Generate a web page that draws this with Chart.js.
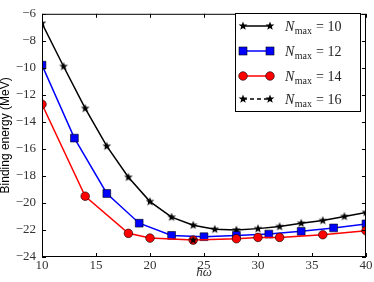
<!DOCTYPE html>
<html>
<head>
<meta charset="utf-8">
<script src="https://cdn.jsdelivr.net/npm/chart.js@4"></script>
<style>
  html, body { margin: 0; padding: 0; background: #fff; }
  canvas { display: block; }
</style>
</head>
<body>
<canvas id="chart" width="374" height="282"></canvas>
<script>
// hbar*omega values (MeV) and binding energies for each Nmax
const hwN10 = [10, 12, 14, 16, 18, 20, 22, 24, 26, 28, 30, 32, 34, 36, 38, 40];
const eN10 = [-6.7, -9.9, -13.0, -15.8, -18.1, -19.9, -21.05, -21.65, -21.95, -22.0, -21.9, -21.75, -21.5, -21.3, -21.0, -20.7];
const hwN12 = [10, 13, 16, 19, 22, 25, 28, 31, 34, 37, 40];
const eN12 = [-9.8, -15.2, -19.3, -21.5, -22.4, -22.5, -22.4, -22.3, -22.1, -21.85, -21.55];
const hwN14 = [10, 14, 18, 20, 24, 28, 30, 32, 36, 40];
const eN14 = [-12.7, -19.5, -22.25, -22.6, -22.75, -22.65, -22.55, -22.55, -22.35, -22.05];
const hwN16 = [24];
const eN16 = [-22.75];
const legendLabels = ['10', '12', '14', '16'];

const xTicks = [10, 15, 20, 25, 30, 35, 40];
const yTicks = [-24, -22, -20, -18, -16, -14, -12, -10, -8, -6];

const serif = '"Liberation Serif", "DejaVu Serif", serif';

function pts(xs, ys) {
  return xs.map((x, i) => ({ x: x, y: ys[i] }));
}

// filled 5-point star like matplotlib's '*'
function starImage(r) {
  const c = document.createElement('canvas');
  const s = Math.ceil(r * 2 + 2);
  c.width = s; c.height = s;
  const g = c.getContext('2d');
  g.translate(s / 2, s / 2);
  g.beginPath();
  for (let i = 0; i < 10; i++) {
    const rad = i % 2 === 0 ? r : r * 0.42;
    const a = -Math.PI / 2 + i * Math.PI / 5;
    if (i === 0) g.moveTo(rad * Math.cos(a), rad * Math.sin(a));
    else g.lineTo(rad * Math.cos(a), rad * Math.sin(a));
  }
  g.closePath();
  g.fillStyle = '#000';
  g.fill();
  return c;
}
const star = starImage(4.6);

const frame = {
  id: 'frame',
  afterDatasetsDraw(chart) {
    const ctx = chart.ctx;
    const a = chart.chartArea;
    const xs = chart.scales.x, ys = chart.scales.y;
    ctx.save();
    ctx.strokeStyle = '#000';
    ctx.lineWidth = 1;
    ctx.strokeRect(a.left + 0.5, a.top + 0.5, a.right - a.left - 1, a.bottom - a.top - 1);
    ctx.beginPath();
    xTicks.forEach(v => {
      const p = Math.round(xs.getPixelForValue(v)) + 0.5;
      ctx.moveTo(p, a.bottom); ctx.lineTo(p, a.bottom - 4);
      ctx.moveTo(p, a.top); ctx.lineTo(p, a.top + 4);
    });
    yTicks.forEach(v => {
      const p = Math.round(ys.getPixelForValue(v)) + 0.5;
      ctx.moveTo(a.left, p); ctx.lineTo(a.left + 4, p);
      ctx.moveTo(a.right, p); ctx.lineTo(a.right - 4, p);
    });
    ctx.stroke();

    // legend box
    const bx = 235.5, by = 13.5, bw = 125, bh = 98;
    ctx.fillStyle = '#fff';
    ctx.fillRect(bx, by, bw, bh);
    ctx.strokeRect(bx, by, bw, bh);
    const rows = [26, 51, 76, 99];
    const x0 = 243, x1 = 270;
    rows.forEach((y, i) => {
      ctx.beginPath();
      ctx.lineWidth = 1.5;
      ctx.setLineDash(i === 3 ? [4, 3] : []);
      ctx.strokeStyle = ['#000', '#0000ff', '#ff0000', '#000'][i];
      ctx.moveTo(x0, y); ctx.lineTo(x1, y);
      ctx.stroke();
      ctx.setLineDash([]);
      [x0, x1].forEach(x => {
        if (i === 0 || i === 3) {
          ctx.drawImage(star, x - star.width / 2, y - star.height / 2);
        } else if (i === 1) {
          ctx.fillStyle = '#0000ff';
          ctx.fillRect(x - 4, y - 4, 8, 8);
          ctx.lineWidth = 0.6; ctx.strokeStyle = '#000';
          ctx.strokeRect(x - 4, y - 4, 8, 8);
        } else {
          ctx.beginPath();
          ctx.arc(x, y, 4.3, 0, Math.PI * 2);
          ctx.fillStyle = '#ff0000';
          ctx.fill();
          ctx.lineWidth = 0.6; ctx.strokeStyle = '#000';
          ctx.stroke();
        }
      });
      ctx.fillStyle = '#222';
      ctx.textBaseline = 'alphabetic';
      ctx.textAlign = 'left';
      let tx = 285;
      ctx.font = 'italic 14px ' + serif;
      ctx.fillText('N', tx, y + 5);
      tx += ctx.measureText('N').width + 0.5;
      ctx.font = '10px ' + serif;
      ctx.fillText('max', tx, y + 8);
      tx += ctx.measureText('max').width + 4;
      ctx.font = '14px ' + serif;
      ctx.fillText('= ' + legendLabels[i], tx, y + 5);
    });
    ctx.restore();
  }
};

new Chart(document.getElementById('chart'), {
  type: 'line',
  data: {
    datasets: [{
      label: 'Nmax = 10',
      data: pts(hwN10, eN10),
      borderColor: '#000',
      borderWidth: 1.5,
      pointStyle: star,
      pointRadius: 4.6,
      clip: 0,
      order: 4,
    }, {
      label: 'Nmax = 12',
      data: pts(hwN12, eN12),
      borderColor: '#0000ff',
      borderWidth: 1.5,
      pointStyle: 'rect',
      pointRadius: 5.5,
      pointBackgroundColor: '#0000ff',
      pointBorderColor: '#000',
      pointBorderWidth: 0.6,
      clip: 0,
      order: 3,
    }, {
      label: 'Nmax = 14',
      data: pts(hwN14, eN14),
      borderColor: '#ff0000',
      borderWidth: 1.5,
      pointStyle: 'circle',
      pointRadius: 4.3,
      pointBackgroundColor: '#ff0000',
      pointBorderColor: '#000',
      pointBorderWidth: 0.6,
      clip: 0,
      order: 2,
    }, {
      label: 'Nmax = 16',
      data: pts(hwN16, eN16),
      borderColor: '#000',
      borderWidth: 1.5,
      borderDash: [4, 3],
      pointStyle: star,
      pointRadius: 4.6,
      clip: 0,
      order: 1,
    }],
  },
  options: {
    responsive: false,
    animation: false,
    layout: { padding: { top: 5, right: 8, left: 0, bottom: 0 } },
    plugins: {
      legend: { display: false },
      tooltip: { enabled: false },
    },
    elements: { line: { tension: 0 } },
    scales: {
      x: {
        type: 'linear',
        min: 10,
        max: 40,
        afterFit(scale) { scale.height = 25; },
        afterBuildTicks(scale) { scale.ticks = xTicks.map(v => ({ value: v })); },
        grid: { display: false, drawTicks: false },
        border: { display: false },
        ticks: {
          padding: 1,
          color: '#333',
          font: { family: serif, size: 13 },
          callback: v => String(v).replace('-', '\u2212'),
        },
        title: {
          display: true,
          text: 'ħω',
          color: '#333',
          font: { family: serif, size: 13, style: 'italic' },
          padding: { top: 0, bottom: 2 },
        },
      },
      y: {
        type: 'linear',
        min: -24,
        max: -6,
        afterFit(scale) { scale.width = 42; },
        afterBuildTicks(scale) { scale.ticks = yTicks.map(v => ({ value: v })); },
        grid: { display: false, drawTicks: false },
        border: { display: false },
        ticks: {
          padding: 6,
          color: '#333',
          font: { family: serif, size: 13 },
          callback: v => String(v).replace('-', '\u2212'),
        },
        title: {
          display: true,
          text: 'Binding energy (MeV)',
          color: '#000',
          font: { family: '"Liberation Sans", Arial, sans-serif', size: 12, lineHeight: 1.0 },
          padding: { top: 0, bottom: 0 },
        },
      },
    },
  },
  plugins: [frame],
});
</script>
</body>
</html>
